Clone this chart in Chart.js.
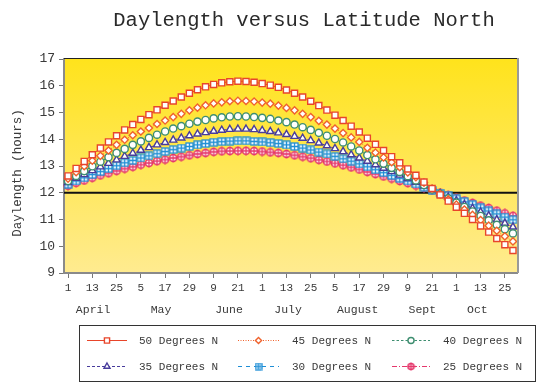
<!DOCTYPE html>
<html><head><meta charset="utf-8">
<script src="https://cdn.jsdelivr.net/npm/chart.js@4/dist/chart.umd.min.js"></script>
<style>html,body{margin:0;padding:0;background:#fff}canvas{display:block}</style>
</head><body>
<canvas id="c" width="544" height="387"></canvas>
<script>
// ---------- DATA ----------
const titleText = 'Daylength versus Latitude North';
const yAxisTitle = 'Daylength (hours)';
const tickLabels = ['1','13','25','5','17','29','9','21','1','13','25','5','17','29','9','21','1','13','25'];
const pointsPerTick = 3;
const pointCount = 56;
const monthNames = ['April','May','June','July','August','Sept','Oct'];
const monthCenters = [3.1, 11.5, 19.9, 27.2, 35.8, 43.8, 50.6]; // in point-index units
const referenceHours = 12;
const yMin = 9, yMax = 17, yStep = 1;
const seriesNames = ['50 Degrees N','45 Degrees N','40 Degrees N','35 Degrees N','30 Degrees N','25 Degrees N'];

const lat50 = [12.63,12.91,13.17,13.42,13.67,13.90,14.13,14.35,14.55,14.74,14.92,15.10,15.27,15.43,15.58,15.72,15.85,15.96,16.05,16.11,16.15,16.17,16.16,16.13,16.08,16.02,15.94,15.84,15.72,15.58,15.42,15.26,15.09,14.90,14.70,14.49,14.27,14.04,13.81,13.58,13.35,13.12,12.89,12.65,12.40,12.16,11.92,11.69,11.46,11.23,11.00,10.76,10.53,10.29,10.06,9.84];
const lat45 = [12.53,12.77,12.99,13.20,13.38,13.58,13.79,13.98,14.15,14.29,14.42,14.57,14.70,14.83,14.95,15.08,15.18,15.27,15.34,15.38,15.42,15.44,15.43,15.41,15.37,15.33,15.26,15.17,15.08,14.95,14.83,14.69,14.55,14.40,14.23,14.07,13.90,13.68,13.50,13.32,13.14,12.96,12.76,12.58,12.38,12.16,11.95,11.75,11.56,11.37,11.17,10.98,10.77,10.58,10.37,10.18];
const lat40 = [12.44,12.63,12.81,12.99,13.16,13.33,13.49,13.64,13.79,13.92,14.05,14.17,14.29,14.40,14.49,14.58,14.66,14.72,14.78,14.82,14.85,14.86,14.85,14.83,14.80,14.76,14.70,14.64,14.55,14.45,14.35,14.24,14.13,14.01,13.88,13.73,13.58,13.41,13.25,13.09,12.93,12.78,12.62,12.46,12.29,12.12,11.96,11.79,11.63,11.47,11.30,11.13,10.97,10.80,10.64,10.48];
const lat35 = [12.38,12.54,12.68,12.83,12.97,13.10,13.23,13.36,13.48,13.59,13.69,13.79,13.88,13.97,14.05,14.13,14.20,14.25,14.30,14.34,14.37,14.38,14.38,14.36,14.33,14.29,14.24,14.18,14.11,14.04,13.95,13.86,13.76,13.65,13.54,13.42,13.30,13.18,13.05,12.92,12.79,12.66,12.53,12.39,12.25,12.11,11.97,11.83,11.70,11.56,11.42,11.28,11.14,10.99,10.86,10.72];
const lat30 = [12.32,12.44,12.56,12.68,12.79,12.90,13.01,13.12,13.21,13.30,13.38,13.46,13.54,13.61,13.67,13.73,13.79,13.84,13.89,13.91,13.93,13.94,13.94,13.92,13.90,13.87,13.84,13.79,13.73,13.67,13.60,13.52,13.45,13.36,13.27,13.18,13.08,12.97,12.86,12.75,12.65,12.54,12.44,12.33,12.21,12.10,11.99,11.88,11.77,11.66,11.55,11.43,11.32,11.21,11.09,10.99];
const lat25 = [12.26,12.37,12.46,12.56,12.65,12.73,12.82,12.90,12.97,13.05,13.11,13.18,13.24,13.30,13.35,13.40,13.45,13.49,13.53,13.55,13.56,13.57,13.57,13.56,13.54,13.51,13.49,13.45,13.40,13.35,13.29,13.23,13.17,13.10,13.03,12.95,12.87,12.78,12.70,12.61,12.53,12.44,12.36,12.27,12.18,12.09,12.00,11.90,11.81,11.71,11.62,11.52,11.43,11.33,11.23,11.14];

// ---------- STYLE ----------
const FONT = "'Liberation Mono','DejaVu Sans Mono',monospace";
const TEXT = '#3a3a3a';

const categories = Array.from({length: pointCount}, (_, i) =>
  i % pointsPerTick === 0 && tickLabels[i / pointsPerTick] !== undefined ? tickLabels[i / pointsPerTick] : '');

function gridSquare(color, n) {
  const c = document.createElement('canvas'); c.width = c.height = n;
  const g = c.getContext('2d');
  const e = n - 1, m = n / 2;
  g.fillStyle = '#fff'; g.fillRect(1, 1, e - 1, e - 1);
  g.strokeStyle = color; g.lineWidth = 1.3;
  g.strokeRect(1, 1, e - 1, e - 1);
  g.beginPath(); g.moveTo(m, 1); g.lineTo(m, e); g.moveTo(1, m); g.lineTo(e, m); g.stroke();
  return c;
}
function crossCircle(color, n) {
  const c = document.createElement('canvas'); c.width = c.height = n;
  const g = c.getContext('2d');
  const m = n / 2;
  g.fillStyle = '#fff'; g.strokeStyle = color; g.lineWidth = 1.6;
  g.beginPath(); g.arc(m, m, m - 1.5, 0, Math.PI * 2); g.fill(); g.stroke();
  g.lineWidth = 1.3;
  g.beginPath(); g.moveTo(m, 0.6); g.lineTo(m, n - 0.6); g.moveTo(0.6, m); g.lineTo(n - 0.6, m); g.stroke();
  return c;
}

const seriesStyles = [
  {color:'#E8452A', dash:[], style:'rect', r:4.3, bw:1.4, legendStyle:'rect'},
  {color:'#F0622C', dash:[1,1.5], style:'rectRot', r:3.6, bw:1.4, legendStyle:'rectRot'},
  {color:'#3E8E70', dash:[2.5,2], style:'circle', r:3.6, bw:1.4, legendStyle:'circle'},
  {color:'#483C9C', dash:[3,2], style:'triangle', r:4.1, bw:1.4, legendStyle:'triangle'},
  {color:'#1E8ED6', dash:[4,4], style:gridSquare('#1E8ED6', 9), r:4.5, bw:1, legendStyle:gridSquare('#1E8ED6', 8)},
  {color:'#E5386C', dash:[5,2,1,2], style:crossCircle('#E5386C', 10), r:4.5, bw:1, legendStyle:crossCircle('#E5386C', 9)},
];
const seriesData = [lat50, lat45, lat40, lat35, lat30, lat25];

const datasets = seriesData.map((d, i) => {
  const s = seriesStyles[i];
  return {
    label: seriesNames[i], data: d,
    borderColor: s.color, backgroundColor: s.color, borderWidth: 1, borderDash: s.dash,
    pointStyle: s.style, pointRadius: s.r, pointHoverRadius: s.r,
    pointBorderColor: s.color, pointBackgroundColor: '#fff', pointBorderWidth: s.bw,
    tension: 0, fill: false, clip: 8
  };
});

// ---------- PLUGINS ----------
const backdrop = {
  id: 'backdrop',
  beforeDraw(chart) {
    const {ctx, chartArea: a} = chart;
    const g = ctx.createLinearGradient(0, a.top, 0, a.bottom);
    g.addColorStop(0, '#FFE31C');
    g.addColorStop(1, '#FFEB90');
    ctx.save(); ctx.fillStyle = g; ctx.fillRect(a.left, a.top, a.right - a.left, a.bottom - a.top); ctx.restore();
  },
  beforeDatasetsDraw(chart) {
    const {ctx, chartArea: a, scales} = chart;
    const y = scales.y.getPixelForValue(referenceHours);
    ctx.save(); ctx.strokeStyle = '#111'; ctx.lineWidth = 2;
    ctx.beginPath(); ctx.moveTo(a.left, y); ctx.lineTo(a.right, y); ctx.stroke(); ctx.restore();
  },
  afterDatasetsDraw(chart) {
    const {ctx, chartArea: a} = chart;
    ctx.save();
    ctx.strokeStyle = '#222'; ctx.lineWidth = 1.2;
    ctx.beginPath(); ctx.moveTo(a.left, a.top - 0.5); ctx.lineTo(a.right + 1, a.top - 0.5); ctx.stroke();
    ctx.strokeStyle = '#999'; ctx.lineWidth = 2;
    ctx.beginPath(); ctx.moveTo(a.right + 1, a.top - 1); ctx.lineTo(a.right + 1, a.bottom); ctx.stroke();
    ctx.restore();
  },
  afterDraw(chart) {
    const {ctx, scales} = chart;
    ctx.save();
    ctx.fillStyle = '#2a2a2a';
    ctx.textAlign = 'center'; ctx.textBaseline = 'middle';
    ctx.font = `20.5px ${FONT}`;
    ctx.fillText(titleText, 304, 21);
    // y title
    ctx.save();
    ctx.translate(18, 173); ctx.rotate(-Math.PI / 2);
    ctx.font = `12.5px ${FONT}`; ctx.fillStyle = TEXT;
    ctx.fillText(yAxisTitle, 0, 0);
    ctx.restore();
    // month labels
    ctx.font = `11.5px ${FONT}`; ctx.fillStyle = TEXT;
    monthNames.forEach((m, i) => {
      ctx.fillText(m, scales.x.getPixelForValue(monthCenters[i]), 310);
    });
    // legend
    ctx.strokeStyle = '#333'; ctx.lineWidth = 1;
    ctx.strokeRect(79.5, 325.5, 456, 56);
    const lx0 = [87, 238, 392], lx1 = [127, 279, 430], tx = [139, 292, 443], ly = [340, 366];
    chart.data.datasets.forEach((ds, i) => {
      const col = i % 3, row = Math.floor(i / 3);
      const y = ly[row];
      const st = seriesStyles[i];
      ctx.save();
      ctx.strokeStyle = ds.borderColor; ctx.lineWidth = 1; ctx.setLineDash(ds.borderDash);
      ctx.beginPath(); ctx.moveTo(lx0[col], y + 0.5); ctx.lineTo(lx1[col], y + 0.5); ctx.stroke();
      ctx.setLineDash([]);
      const cx = (lx0[col] + lx1[col]) / 2;
      if (Chart.helpers && Chart.helpers.drawPoint) {
        ctx.fillStyle = ds.pointBackgroundColor; ctx.strokeStyle = ds.pointBorderColor; ctx.lineWidth = ds.pointBorderWidth;
        Chart.helpers.drawPoint(ctx, {pointStyle: st.legendStyle, radius: st.r * 0.85, rotation: 0, borderWidth: ds.pointBorderWidth}, cx, y + 0.5);
      }
      ctx.restore();
      ctx.font = `11px ${FONT}`; ctx.fillStyle = TEXT; ctx.textAlign = 'left';
      ctx.fillText(ds.label, tx[col], y + 1);
    });
    ctx.restore();
  }
};

new Chart(document.getElementById('c'), {
  type: 'line',
  data: {labels: categories, datasets},
  options: {
    responsive: false, animation: false, devicePixelRatio: 1,
    layout: {padding: {top: 59, right: 27, bottom: 0, left: 0}},
    plugins: {legend: {display: false}, tooltip: {enabled: false}, title: {display: false}},
    scales: {
      x: {
        type: 'category', offset: true,
        grid: {drawOnChartArea: false, drawTicks: true, tickLength: 5,
               color: ctx => (ctx.index % pointsPerTick === 0 && ctx.index / pointsPerTick < tickLabels.length) ? '#777' : 'rgba(0,0,0,0)',
               offset: false},
        border: {color: '#8a8a8a', width: 2},
        ticks: {autoSkip: false, maxRotation: 0, minRotation: 0, padding: 3, color: TEXT,
                font: {family: FONT, size: 11}},
        afterFit(s) { s.height = 114; }
      },
      y: {
        min: yMin, max: yMax,
        grid: {drawOnChartArea: false, drawTicks: true, tickLength: 5, color: '#777'},
        border: {color: '#8a8a8a', width: 2},
        ticks: {stepSize: yStep, padding: 4, color: TEXT, font: {family: FONT, size: 13}},
        afterFit(s) { s.width = 64; }
      }
    }
  },
  plugins: [backdrop]
});
</script>
</body></html>
